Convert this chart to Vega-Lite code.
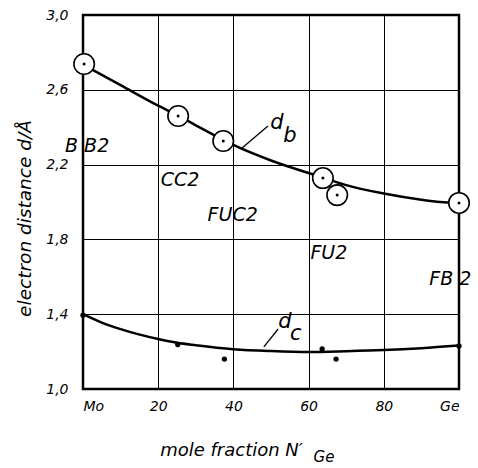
{
  "$schema": "https://vega.github.io/schema/vega-lite/v6.json",
  "width": 376,
  "height": 374,
  "autosize": "none",
  "padding": {"left": 83, "top": 15, "right": 19, "bottom": 79},
  "background": "white",
  "config": {
    "view": {"stroke": "black", "strokeWidth": 2.5},
    "font": "DejaVu Sans"
  },
  "datasets": {
    "curve_b": [
      {"x": 0, "y": 2.735}, {"x": 10, "y": 2.625}, {"x": 20, "y": 2.515}, {"x": 25, "y": 2.465},
      {"x": 30, "y": 2.41}, {"x": 37, "y": 2.335}, {"x": 40, "y": 2.305}, {"x": 50, "y": 2.222},
      {"x": 60, "y": 2.155}, {"x": 64, "y": 2.13}, {"x": 70, "y": 2.09}, {"x": 80, "y": 2.045},
      {"x": 90, "y": 2.012}, {"x": 95, "y": 2.0}, {"x": 100, "y": 1.995}
    ],
    "curve_c": [
      {"x": 0, "y": 1.4}, {"x": 5, "y": 1.355}, {"x": 10, "y": 1.32}, {"x": 20, "y": 1.267},
      {"x": 25, "y": 1.247}, {"x": 30, "y": 1.234}, {"x": 40, "y": 1.213}, {"x": 50, "y": 1.203},
      {"x": 60, "y": 1.198}, {"x": 70, "y": 1.202}, {"x": 80, "y": 1.208}, {"x": 90, "y": 1.218},
      {"x": 100, "y": 1.232}
    ],
    "pts_b": [
      {"x": 0.3, "y": 2.738}, {"x": 25.3, "y": 2.46}, {"x": 37.3, "y": 2.326},
      {"x": 63.8, "y": 2.128}, {"x": 67.6, "y": 2.037}, {"x": 100, "y": 1.995}
    ],
    "pts_c": [
      {"x": 0, "y": 1.395}, {"x": 25.2, "y": 1.238}, {"x": 37.6, "y": 1.16},
      {"x": 63.6, "y": 1.214}, {"x": 67.3, "y": 1.16}, {"x": 100, "y": 1.23}
    ],
    "phases": [
      {"x": 1.1, "y": 2.297, "t": "B B2"},
      {"x": 25.8, "y": 2.12, "t": "CC2"},
      {"x": 39.8, "y": 1.933, "t": "FUC2"},
      {"x": 65.4, "y": 1.725, "t": "FU2"},
      {"x": 97.7, "y": 1.59, "t": "FB 2"}
    ],
    "curvelabels": [
      {"x": 51.6, "y": 2.42, "t": "d"},
      {"x": 55.0, "y": 2.353, "t": "b"},
      {"x": 53.7, "y": 1.36, "t": "d"},
      {"x": 56.6, "y": 1.295, "t": "c"},
      {"x": 64.1, "y": 0.635, "t": "Ge"}
    ],
    "leaders": [
      {"x": 42.3, "y": 2.289, "x2": 49.2, "y2": 2.406},
      {"x": 48.1, "y": 1.225, "x2": 51.9, "y2": 1.321}
    ]
  },
  "layer": [
    {
      "data": {"name": "curve_b"},
      "mark": {"type": "line", "color": "black", "strokeWidth": 2.5, "interpolate": "monotone"},
      "encoding": {
        "x": {
          "field": "x", "type": "quantitative",
          "scale": {"domain": [0, 100], "nice": false},
          "axis": {
            "values": [0, 20, 40, 60, 80, 100],
            "labelExpr": "datum.value == 0 ? 'Mo' : datum.value == 100 ? 'Ge' : datum.label",
            "grid": true, "gridColor": "black", "gridWidth": 1, "gridOpacity": 1,
            "ticks": false, "domain": false, "labelFlush": true,
            "labelPadding": 10, "labelFont": "DejaVu Sans", "labelFontStyle": "italic",
            "labelFontSize": 14, "labelColor": "black",
            "title": "mole fraction  N′",
            "titleFont": "DejaVu Sans", "titleFontStyle": "italic", "titleFontWeight": "normal",
            "titleFontSize": 18, "titleColor": "black",
            "titleX": 148, "titleY": 66, "titleAlign": "center", "titleBaseline": "alphabetic"
          }
        },
        "y": {
          "field": "y", "type": "quantitative",
          "scale": {"domain": [1, 3], "nice": false},
          "axis": {
            "values": [1.0, 1.4, 1.8, 2.2, 2.6, 3.0],
            "labelExpr": "replace(format(datum.value, '.1f'), '.', ',')",
            "grid": true, "gridColor": "black", "gridWidth": 1, "gridOpacity": 1,
            "ticks": false, "domain": false, "labelFlush": false,
            "labelPadding": 15, "labelFont": "DejaVu Sans", "labelFontStyle": "italic",
            "labelFontSize": 14, "labelColor": "black",
            "title": "electron distance  d/Å",
            "titleFont": "DejaVu Sans", "titleFontStyle": "italic", "titleFontWeight": "normal",
            "titleFontSize": 18.5, "titleColor": "black",
            "titleX": -59, "titleY": 203, "titleAlign": "center", "titleBaseline": "middle", "titleAngle": -90
          }
        }
      }
    },
    {
      "data": {"name": "curve_c"},
      "mark": {"type": "line", "color": "black", "strokeWidth": 2.5, "interpolate": "monotone"},
      "encoding": {
        "x": {"field": "x", "type": "quantitative"},
        "y": {"field": "y", "type": "quantitative"}
      }
    },
    {
      "data": {"name": "leaders"},
      "mark": {"type": "rule", "color": "black", "strokeWidth": 1.3},
      "encoding": {
        "x": {"field": "x", "type": "quantitative"},
        "y": {"field": "y", "type": "quantitative"},
        "x2": {"field": "x2"},
        "y2": {"field": "y2"}
      }
    },
    {
      "data": {"name": "pts_b"},
      "mark": {"type": "point", "shape": "circle", "filled": false, "fill": "white", "fillOpacity": 1, "stroke": "black", "strokeWidth": 1.6, "size": 420, "opacity": 1, "clip": false},
      "encoding": {
        "x": {"field": "x", "type": "quantitative"},
        "y": {"field": "y", "type": "quantitative"}
      }
    },
    {
      "data": {"name": "pts_b"},
      "mark": {"type": "circle", "color": "black", "size": 9, "opacity": 1},
      "encoding": {
        "x": {"field": "x", "type": "quantitative"},
        "y": {"field": "y", "type": "quantitative"}
      }
    },
    {
      "data": {"name": "pts_c"},
      "mark": {"type": "circle", "color": "black", "size": 28, "opacity": 1},
      "encoding": {
        "x": {"field": "x", "type": "quantitative"},
        "y": {"field": "y", "type": "quantitative"}
      }
    },
    {
      "data": {"name": "phases"},
      "mark": {"type": "text", "font": "DejaVu Sans", "fontStyle": "italic", "fontSize": 19, "color": "black", "align": "center", "baseline": "middle", "clip": false},
      "encoding": {
        "x": {"field": "x", "type": "quantitative"},
        "y": {"field": "y", "type": "quantitative"},
        "text": {"field": "t"}
      }
    },
    {
      "data": {"name": "curvelabels"},
      "mark": {"type": "text", "font": "DejaVu Sans", "fontStyle": "italic", "fontSize": 21, "color": "black", "align": "center", "baseline": "middle", "clip": false},
      "encoding": {
        "x": {"field": "x", "type": "quantitative"},
        "y": {"field": "y", "type": "quantitative"},
        "text": {"field": "t"},
        "size": {"condition": {"test": "datum.t == 'Ge'", "value": 15}, "value": 21}
      }
    }
  ]
}
